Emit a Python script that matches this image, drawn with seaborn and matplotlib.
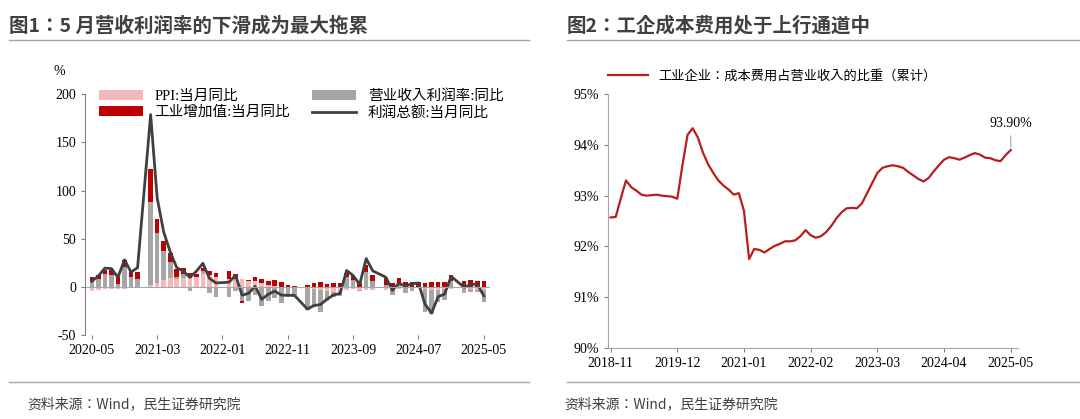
import numpy as np
import pandas as pd
import matplotlib
matplotlib.use('Agg')
import matplotlib.pyplot as plt
import seaborn as sns

plt.rcParams['font.family'] = ['Liberation Serif', 'Noto Sans CJK JP']
plt.rcParams['axes.unicode_minus'] = False

# chart 1 data, monthly 2020-05 .. 2025-05 (January merged into February)
months1 = pd.date_range('2020-05', '2025-05', freq='MS').strftime('%Y-%m').tolist()
ppi = [-3.7, -3.0, -2.4, -2.0, -2.1, -2.1, -1.5, -0.4, np.nan, 1.7, 4.4, 6.8, 9.0, 8.8, 9.0, 9.5,
       10.7, 13.5, 12.9, 10.3, np.nan, 8.8, 8.3, 8.0, 6.4, 6.1, 4.2, 2.3, 0.9, -1.3, -1.3, -0.7,
       np.nan, -1.4, -2.5, -3.6, -4.6, -5.4, -4.4, -3.0, -2.5, -2.6, -3.0, -2.7, np.nan, -2.7, -2.8,
       -2.5, -1.4, -0.8, -0.8, -1.8, -2.8, -2.9, -2.5, -2.3, np.nan, -2.2, -2.5, -2.7, -3.3]
margin = [6, 8, 13, 12, 3, 21, 10, 8, np.nan, 86, 52, 31, 17, 2, 4, -4,
          0, 3, -6, -10, np.nan, -10, -4, -14, -14, -8, -20, -14, -11, -15, -9, -10,
          np.nan, -22, -18, -22, -10, -5, -5, 10, 7, -2, 16, 6, np.nan, 2, -5,
          3, -5, -3, 0, -24, -25, -13, -11, 6, np.nan, -4, -3, -2, -12]
va = [4.4, 4.8, 4.8, 5.6, 6.9, 6.9, 7.0, 7.3, np.nan, 35.1, 14.1, 9.8, 8.8, 8.3, 6.4, 5.3,
      3.1, 3.5, 3.8, 4.3, np.nan, 7.5, 5.0, -2.9, 0.7, 3.9, 3.8, 4.2, 6.3, 5.0, 2.2, 1.3,
      np.nan, 2.4, 3.9, 5.6, 3.5, 4.4, 3.7, 4.5, 4.5, 4.6, 6.6, 6.8, np.nan, 7.0, 4.5,
      6.7, 5.6, 5.3, 5.1, 4.5, 5.4, 5.3, 5.4, 6.2, np.nan, 5.9, 7.7, 6.1, 5.8]
profit = [6.0, 11.5, 19.6, 19.1, 10.1, 28.2, 15.5, 20.1, np.nan, 178.9, 92.3, 57.0, 36.4, 20.0, 16.4, 10.1,
          16.3, 24.6, 9.0, 4.2, np.nan, 5.0, 12.2, -8.5, -6.5, 0.8, -12.8, -7.5, -4.2, -8.4, -8.6, -8.6,
          np.nan, -22.9, -19.2, -18.2, -12.6, -8.3, -6.7, 17.2, 11.9, 2.7, 29.5, 16.8, np.nan, 10.2, -3.5,
          4.0, 0.7, 3.6, 4.1, -17.8, -27.1, -10.0, -7.3, 11.0, np.nan, -0.3, 2.6, 3.0, -9.1]

# chart 2 data, monthly 2018-11 .. 2025-05
months2 = pd.date_range('2018-11', '2025-05', freq='MS').strftime('%Y-%m').tolist()
cost_ratio = [92.57, 92.58, 92.95, 93.30, 93.17, 93.10, 93.02, 93.00, 93.01, 93.02, 93.00, 92.99, 92.98,
              92.94, 93.60, 94.20, 94.33, 94.15, 93.85, 93.62, 93.45, 93.30, 93.20, 93.12, 93.02, 93.05,
              92.70, 91.75, 91.95, 91.93, 91.88, 91.95, 92.01, 92.05, 92.10, 92.10, 92.12, 92.20, 92.32,
              92.22, 92.17, 92.20, 92.28, 92.40, 92.55, 92.67, 92.75, 92.76, 92.75, 92.85, 93.05, 93.25,
              93.45, 93.55, 93.58, 93.60, 93.58, 93.55, 93.47, 93.40, 93.33, 93.28, 93.35, 93.48, 93.60,
              93.71, 93.76, 93.74, 93.71, 93.75, 93.80, 93.84, 93.81, 93.75, 93.74, 93.70, 93.68, 93.80, 93.90]

fig = plt.figure(figsize=(10.8, 4.19), dpi=100)

# titles, rules and source lines
title_font = dict(fontsize=14, fontweight='bold', color='#404040', family='Noto Sans CJK JP')
fig.text(0.008, 0.925, '图1：5 月营收利润率的下滑成为最大拖累', **title_font)
fig.text(0.525, 0.925, '图2：工企成本费用处于上行通道中', **title_font)
for x0, x1 in [(0.008, 0.49), (0.525, 1.0)]:
    fig.add_artist(plt.Line2D([x0, x1], [0.905, 0.905], color='#A6A6A6', lw=1))
    fig.add_artist(plt.Line2D([x0, x1], [0.088, 0.088], color='#A6A6A6', lw=1))
src_font = dict(fontsize=10, color='#404040', family='Noto Sans CJK JP')
fig.text(0.025, 0.025, '资料来源：Wind，民生证券研究院', **src_font)
fig.text(0.523, 0.025, '资料来源：Wind，民生证券研究院', **src_font)

# chart 1
ax1 = fig.add_axes([0.079, 0.2, 0.375, 0.575])
x = np.arange(len(months1))
df = pd.DataFrame({'PPI:当月同比': ppi, '营业收入利润率:同比': margin, '工业增加值:当月同比': va}).fillna(0)
colors1 = ['#F4B9B9', '#A6A6A6', '#C00000']
pos_base = np.zeros(len(x))
neg_base = np.zeros(len(x))
for col, c in zip(df.columns, colors1):
    v = df[col].values
    bottom = np.where(v >= 0, pos_base, neg_base)
    ax1.bar(x, v, bottom=bottom, color=c, width=0.7, label=col)
    pos_base = pos_base + np.where(v >= 0, v, 0)
    neg_base = neg_base + np.where(v < 0, v, 0)
line_df = pd.DataFrame({'x': x, 'profit': profit}).dropna()
sns.lineplot(data=line_df, x='x', y='profit', ax=ax1, color='#404040', lw=2, label='利润总额:当月同比')
ax1.axhline(0, color='#A6A6A6', lw=0.8)
ax1.set_ylim(-50, 200)
ax1.set_yticks([-50, 0, 50, 100, 150, 200])
ax1.set_xlim(-1, len(x))
ax1.set_xticks(x[::10])
ax1.set_xticklabels(months1[::10])
ax1.set_xlabel('')
ax1.set_ylabel('')
ax1.tick_params(labelsize=10, length=3, color='#808080')
for s in ['top', 'right']:
    ax1.spines[s].set_visible(False)
ax1.spines['bottom'].set_visible(False)
ax1.spines['left'].set_color('#808080')
fig.text(0.05, 0.82, '%', fontsize=10)
h, l = ax1.get_legend_handles_labels()
order = [1, 3, 2, 0]
ax1.legend([h[i] for i in order], [l[i] for i in order], ncol=2, frameon=False, fontsize=10.5,
           loc='lower left', bbox_to_anchor=(0.02, 0.87), columnspacing=1.5, handlelength=3,
           labelspacing=0.2, borderaxespad=0)

# chart 2
ax2 = fig.add_axes([0.563, 0.17, 0.38, 0.605])
df2 = pd.DataFrame({'x': np.arange(len(months2)), 'v': cost_ratio})
sns.lineplot(data=df2, x='x', y='v', ax=ax2, color='#B81E1E', lw=1.6, label='工业企业：成本费用占营业收入的比重（累计）')
ax2.set_ylim(90, 95)
ax2.set_yticks([90, 91, 92, 93, 94, 95])
ax2.set_yticklabels([f'{t}%' for t in range(90, 96)])
ax2.set_xlim(-0.5, len(months2) + 0.5)
ax2.set_xticks(df2['x'][::13])
ax2.set_xticklabels(months2[::13])
ax2.set_xlabel('')
ax2.set_ylabel('')
ax2.tick_params(labelsize=10, length=3, color='#808080')
for s in ['top', 'right']:
    ax2.spines[s].set_visible(False)
ax2.spines['left'].set_color('#A6A6A6')
ax2.spines['bottom'].set_color('#A6A6A6')
last = len(months2) - 1
ax2.annotate(f'{cost_ratio[-1]:.2f}%', xy=(last, cost_ratio[-1]), xytext=(last, cost_ratio[-1] + 0.45),
             ha='center', fontsize=10, arrowprops=dict(arrowstyle='-', color='#A6A6A6', lw=0.8))
ax2.legend(frameon=False, fontsize=9.5, loc='lower center', bbox_to_anchor=(0.4, 1.0), handlelength=3)

fig.savefig('out.png', dpi=100)
